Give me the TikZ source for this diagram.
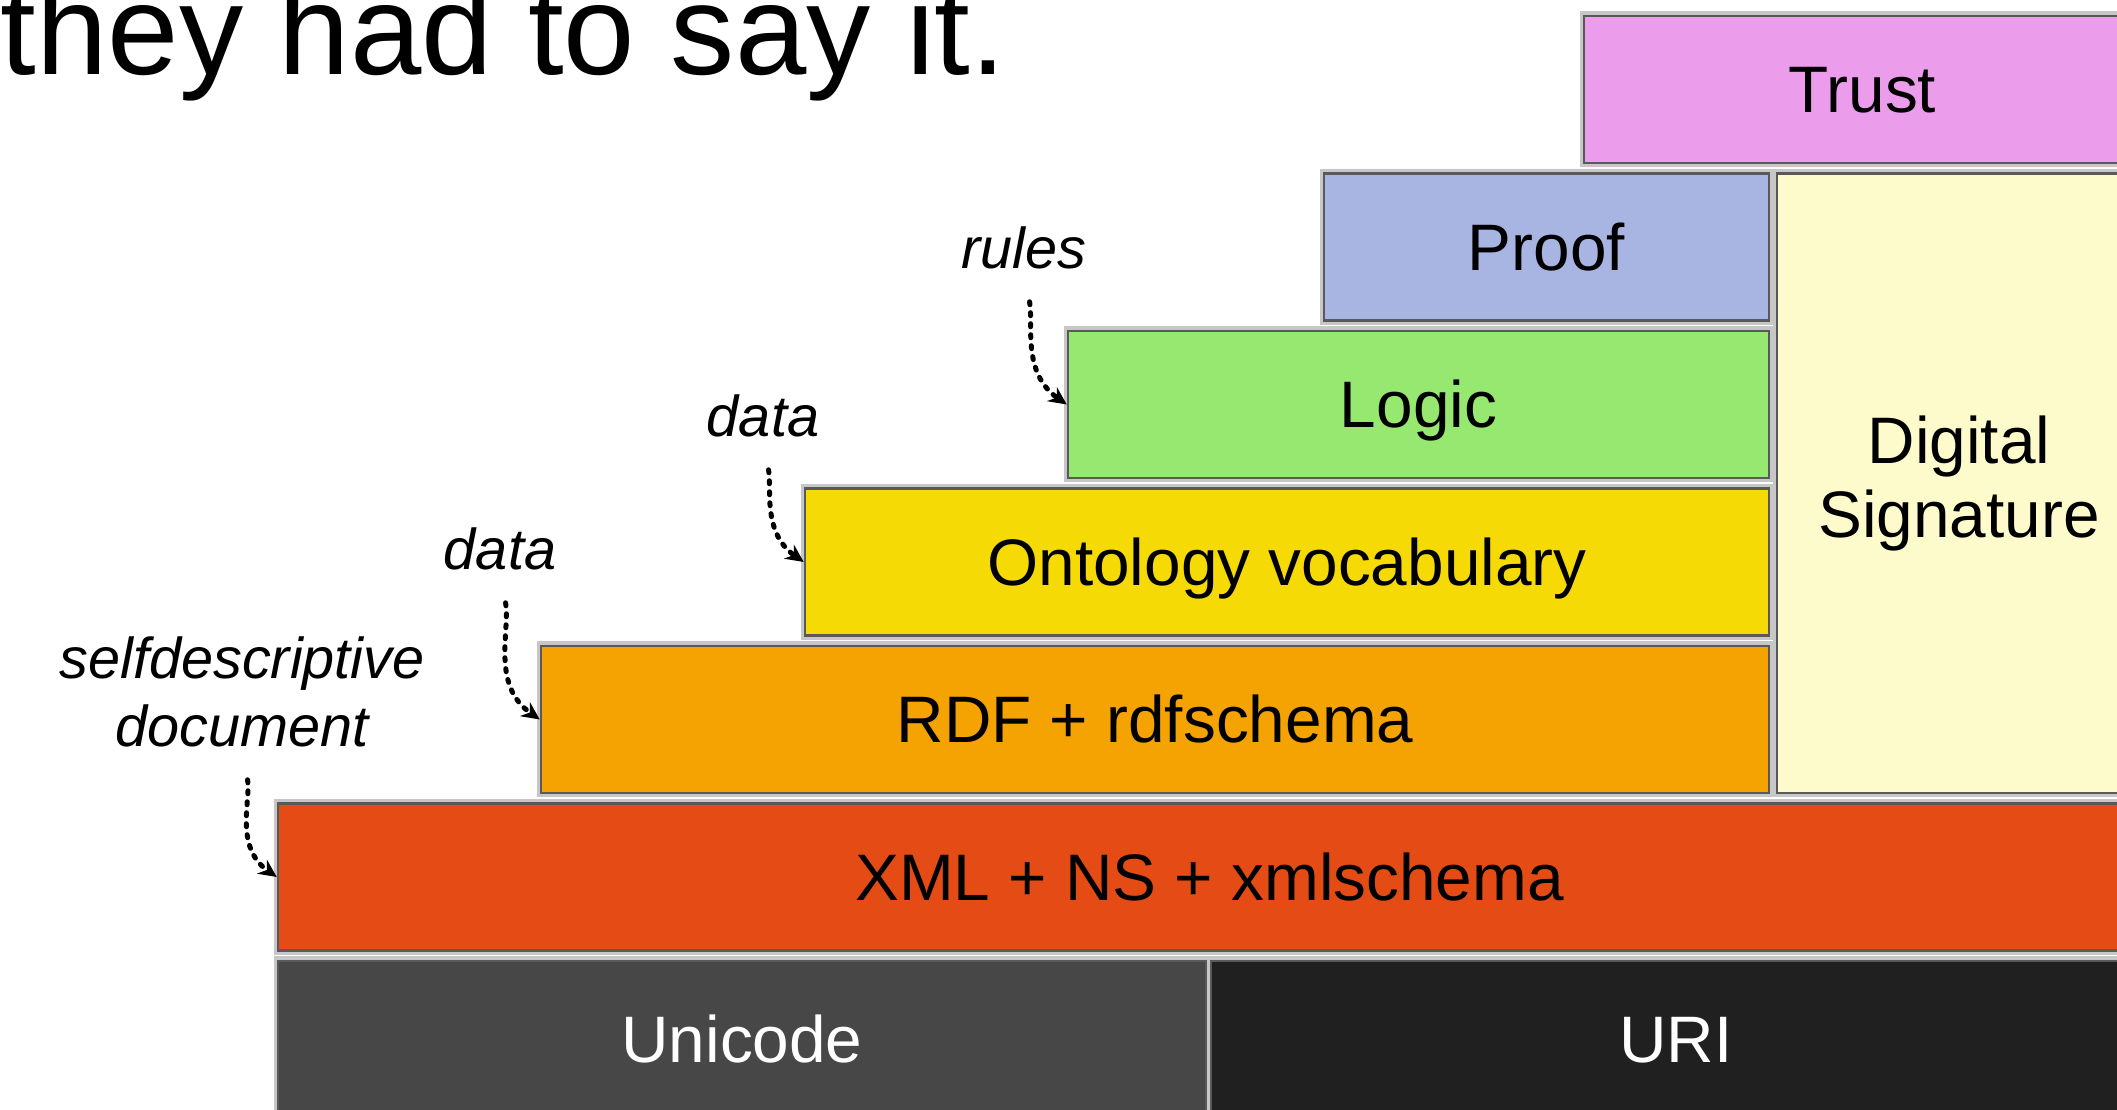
\documentclass[tikz,border=0pt]{standalone}
\usepackage{fontspec}
\setmainfont{Liberation Sans}
\usetikzlibrary{arrows.meta}

\definecolor{trustpink}{RGB}{235,157,236}
\definecolor{proofblue}{RGB}{168,181,227}
\definecolor{signyellow}{RGB}{253,251,204}
\definecolor{logicgreen}{RGB}{151,232,112}
\definecolor{ontoyellow}{RGB}{245,218,6}
\definecolor{rdforange}{RGB}{245,163,2}
\definecolor{xmlred}{RGB}{228,75,21}
\definecolor{unigray}{RGB}{71,71,71}
\definecolor{urigray}{RGB}{32,32,32}

\begin{document}
\begin{tikzpicture}[
    layer/.style={draw=black!65,line width=0.25mm,
      preaction={draw=black!22,line width=0.9mm},
      minimum height=14.7mm,inner sep=0pt,
      text height=4.7mm,text depth=0pt,
      font=\fontsize{18.7}{21}\selectfont},
    note/.style={font=\fontsize{16.4}{19.6}\selectfont\itshape,
      inner sep=0pt,align=center},
    hint/.style={line width=0.5mm,dash pattern=on 0.3mm off 0.8mm,
      line cap=round,-{Stealth[length=1.8mm,width=1.7mm]},
      shorten <=3.2mm}]
    \useasboundingbox (0,0) rectangle (21.17,11.09);
    \clip (0,0) rectangle (21.17,11.09);

    \node[anchor=base west,inner sep=0pt,font=\fontsize{36.5}{40}\selectfont]
      (title) at (0,10.34) {they had to say it.};

    % the stack
    \node[layer,fill=trustpink,minimum width=55.7mm] (trust) at (18.625,10.195) {Trust};
    \node[layer,fill=proofblue,minimum width=44.5mm] (proof) at (15.465,8.62) {Proof};
    \node[layer,fill=signyellow,minimum width=36.4mm,minimum height=61.95mm,
      text height={},text depth={},align=center] (sign) at (19.59,6.2575) {Digital\\Signature};
    \node[layer,fill=logicgreen,minimum width=70.1mm] (logic) at (14.185,7.045) {Logic};
    \node[layer,fill=ontoyellow,minimum width=96.4mm] (onto) at (12.87,5.47) {Ontology vocabulary};
    \node[layer,fill=rdforange,minimum width=122.8mm] (rdf) at (11.55,3.895) {RDF + rdfschema};
    \node[layer,fill=xmlred,minimum width=186.3mm] (xml) at (12.095,2.32) {XML + NS + xmlschema};
    \node[layer,fill=unigray,text=white,minimum width=92.8mm,minimum height=15.7mm] (unicode) at (7.42,0.695) {Unicode};
    \node[layer,fill=urigray,text=white,minimum width=93mm,minimum height=15.7mm] (uri) at (16.76,0.695) {URI};

    % side notes
    \node[note,anchor=base] (rules) at (10.24,8.40) {rules};
    \node[note,anchor=base] (ontodata) at (7.63,6.72) {data};
    \node[note,anchor=base] (rdfdata) at (5.00,5.39) {data};
    \node[note,anchor=base] (selfdoc) at (2.42,3.62) {selfdescriptive\\document};

    \draw[hint] (rules.south) to[out=-80,in=145] (logic.west);
    \draw[hint] (ontodata.south) to[out=-80,in=145] (onto.west);
    \draw[hint] (rdfdata.south) to[out=-80,in=145] (rdf.west);
    \draw[hint] (selfdoc.south) to[out=-80,in=145] (xml.west);
\end{tikzpicture}
\end{document}
